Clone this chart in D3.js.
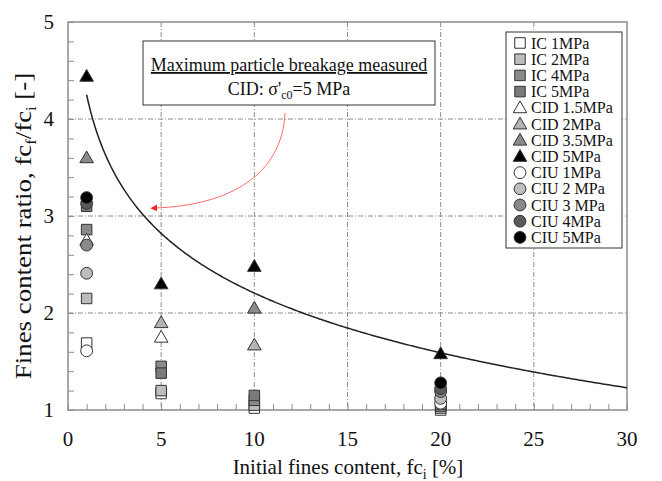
<!DOCTYPE html>
<html>
<head>
<meta charset="utf-8">
<script src="https://cdn.jsdelivr.net/npm/d3@7"></script>
<style>
  html, body { margin: 0; padding: 0; background: #fff; }
  svg { display: block; font-family: "Liberation Serif", "Times New Roman", serif; }
</style>
</head>
<body>
<svg id="chart" width="662" height="481"></svg>
<script>
// Fines content ratio vs initial fines content, grouped by test type and confining pressure
const seriesNames = [
  "IC 1MPa", "IC 2MPa", "IC 4MPa", "IC 5MPa",
  "CID 1.5MPa", "CID 2MPa", "CID 3.5MPa", "CID 5MPa",
  "CIU 1MPa", "CIU 2 MPa", "CIU 3 MPa", "CIU 4MPa", "CIU 5MPa"
];
const seriesShapes = [
  "square", "square", "square", "square",
  "triangle", "triangle", "triangle", "triangle",
  "circle", "circle", "circle", "circle", "circle"
];
const seriesFills = [
  "#ffffff", "#bdbdbd", "#8a8a8a", "#7a7a7a",
  "#ffffff", "#b4b4b4", "#8a8a8a", "#000000",
  "#ffffff", "#bdbdbd", "#8a8a8a", "#5a5a5a", "#000000"
];

// initial fines content (%) for each series
const icFc   = [1, 5, 10, 20];
const cidFc1 = [1, 5];
const cidFc2 = [5, 10];
const cidFc3 = [1, 10];
const cidFc4 = [1, 5, 10, 20];
const ciuFc  = [1, 20];

// fines content ratio fc_f / fc_i
const ic1   = [1.69, 1.17, 1.02, 1.00];
const ic2   = [2.15, 1.20, 1.05, 1.02];
const ic4   = [2.86, 1.45, 1.10, 1.04];
const ic5   = [3.10, 1.38, 1.15, 1.06];
const cid15 = [2.75, 1.75];
const cid2  = [1.90, 1.67];
const cid35 = [3.60, 2.05];
const cid5  = [4.44, 2.30, 2.48, 1.58];
const ciu1  = [1.61, 1.07];
const ciu2  = [2.41, 1.12];
const ciu3  = [2.70, 1.19];
const ciu4  = [3.13, 1.22];
const ciu5  = [3.19, 1.28];

const seriesX = [icFc, icFc, icFc, icFc, cidFc1, cidFc2, cidFc3, cidFc4, ciuFc, ciuFc, ciuFc, ciuFc, ciuFc];
const seriesY = [ic1, ic2, ic4, ic5, cid15, cid2, cid35, cid5, ciu1, ciu2, ciu3, ciu4, ciu5];

// logarithmic trend of maximum breakage: ratio = fitA - fitB * ln(fc_i)
const fitA = 4.25;
const fitB = 0.888;
const fitRange = [1, 30];

const xTicks = [0, 5, 10, 15, 20, 25, 30];
const yTicks = [1, 2, 3, 4, 5];

const svg = d3.select("#chart");
const m = { left: 68, right: 627, top: 22, bottom: 410 };
const x = d3.scaleLinear().domain([0, 30]).range([m.left, m.right]);
const y = d3.scaleLinear().domain([1, 5]).range([m.bottom, m.top]);

const frameColor = "#8c8c8c";
const gridColor = "#8c8c8c";

// grid lines (dash-dot)
const grid = svg.append("g");
grid.selectAll("line.gx").data(xTicks.slice(1, -1)).join("line")
  .attr("x1", d => x(d)).attr("x2", d => x(d))
  .attr("y1", m.top).attr("y2", m.bottom)
  .attr("stroke", gridColor).attr("stroke-width", 1)
  .attr("stroke-dasharray", "5,2,1,2");
grid.selectAll("line.gy").data(yTicks.slice(1, -1)).join("line")
  .attr("x1", m.left).attr("x2", m.right)
  .attr("y1", d => y(d)).attr("y2", d => y(d))
  .attr("stroke", gridColor).attr("stroke-width", 1)
  .attr("stroke-dasharray", "5,2,1,2");

// axes with inward ticks
const xAxis = svg.append("g").attr("transform", `translate(0,${m.bottom})`)
  .call(d3.axisBottom(x).tickValues(d3.range(0, 31, 1)).tickSize(-6).tickFormat(""));
const yAxis = svg.append("g").attr("transform", `translate(${m.left},0)`)
  .call(d3.axisLeft(y).tickValues(d3.range(1, 5.001, 0.2)).tickSize(-6).tickFormat(""));
[xAxis, yAxis].forEach(g => {
  g.select(".domain").remove();
  g.selectAll("line").attr("stroke", frameColor).attr("stroke-width", 1);
});

// frame
svg.append("rect")
  .attr("x", m.left).attr("y", m.top)
  .attr("width", m.right - m.left).attr("height", m.bottom - m.top)
  .attr("fill", "none").attr("stroke", frameColor).attr("stroke-width", 1.5);

// tick labels
svg.append("g").selectAll("text").data(xTicks).join("text")
  .attr("x", d => x(d)).attr("y", 446)
  .attr("text-anchor", "middle").attr("font-size", 21).attr("fill", "#111")
  .text(d => d);
svg.append("g").selectAll("text").data(yTicks).join("text")
  .attr("x", 54).attr("y", d => y(d) + 7)
  .attr("text-anchor", "end").attr("font-size", 21).attr("fill", "#111")
  .text(d => d);

// axis titles
const xt = svg.append("text").attr("x", 348).attr("y", 474)
  .attr("text-anchor", "middle").attr("font-size", 21).attr("fill", "#111");
xt.append("tspan").text("Initial fines content, fc");
xt.append("tspan").attr("font-size", 14).attr("dy", 5).text("i");
xt.append("tspan").attr("dy", -5).text(" [%]");

// y title, stretched along its baseline
const yt = svg.append("g")
  .attr("transform", `translate(31,226) rotate(-90) scale(1.17,1)`)
  .append("text")
  .attr("text-anchor", "middle").attr("font-size", 23).attr("fill", "#111");
yt.append("tspan").text("Fines content ratio, fc");
yt.append("tspan").attr("font-size", 14).attr("dy", 5).text("f");
yt.append("tspan").attr("dy", -5).text("/fc");
yt.append("tspan").attr("font-size", 14).attr("dy", 5).text("i");
yt.append("tspan").attr("dy", -5).text(" [-]");

// fitted curve
const curvePts = d3.range(fitRange[0], fitRange[1] + 0.001, 0.1).map(v => [v, fitA - fitB * Math.log(v)]);
svg.append("path")
  .attr("d", d3.line().x(d => x(d[0])).y(d => y(d[1]))(curvePts))
  .attr("fill", "none").attr("stroke", "#222").attr("stroke-width", 1.5);

// marker symbols
const symType = { square: d3.symbolSquare, triangle: d3.symbolTriangle, circle: d3.symbolCircle };
const symSize = { square: 110, triangle: 80, circle: 110 };
function drawMarker(g, shape, fill, cx, cy) {
  const dy = shape === "triangle" ? 1 : 0;
  g.append("path")
    .attr("d", d3.symbol().type(symType[shape]).size(symSize[shape])())
    .attr("transform", `translate(${cx},${cy + dy})`)
    .attr("fill", fill).attr("stroke", "#333").attr("stroke-width", 1);
}

// data points
const pts = svg.append("g");
seriesNames.forEach((name, i) => {
  seriesX[i].forEach((fc, j) => {
    drawMarker(pts, seriesShapes[i], seriesFills[i], x(fc), y(seriesY[i][j]));
  });
});

// legend
const lg = svg.append("g");
lg.append("rect").attr("x", 506).attr("y", 32).attr("width", 116).attr("height", 216)
  .attr("fill", "#fff").attr("stroke", "#333").attr("stroke-width", 1);
seriesNames.forEach((name, i) => {
  const ly = 43 + i * 16.2;
  drawMarker(lg, seriesShapes[i], seriesFills[i], 520, ly);
  lg.append("text").attr("x", 531).attr("y", ly + 5.5)
    .attr("font-size", 16).attr("fill", "#111").text(name);
});

// annotation box
const ann = svg.append("g");
ann.append("rect").attr("x", 143).attr("y", 41).attr("width", 292).attr("height", 64)
  .attr("fill", "#fff").attr("stroke", "#333").attr("stroke-width", 1);
ann.append("text").attr("x", 289).attr("y", 71)
  .attr("text-anchor", "middle").attr("font-size", 18).attr("fill", "#111")
  .attr("text-decoration", "underline")
  .text("Maximum particle breakage measured");
const t2 = ann.append("text").attr("x", 289).attr("y", 95)
  .attr("text-anchor", "middle").attr("font-size", 18).attr("fill", "#111");
t2.append("tspan").text("CID: σ'");
t2.append("tspan").attr("font-size", 12).attr("dy", 4).text("c0");
t2.append("tspan").attr("dy", -4).text("=5 MPa");

// red arrow from the box to the curve
svg.append("defs").append("marker")
  .attr("id", "arrowhead").attr("viewBox", "0 0 10 10")
  .attr("refX", 2).attr("refY", 5).attr("markerWidth", 7).attr("markerHeight", 7)
  .attr("orient", "auto-start-reverse")
  .append("path").attr("d", "M0,0 L10,5 L0,10 z").attr("fill", "#ff2020");
svg.append("path")
  .attr("d", "M285,113 C282,175 230,205 156,208")
  .attr("fill", "none").attr("stroke", "#ff6b6b").attr("stroke-width", 1)
  .attr("marker-end", "url(#arrowhead)");
</script>
</body>
</html>
